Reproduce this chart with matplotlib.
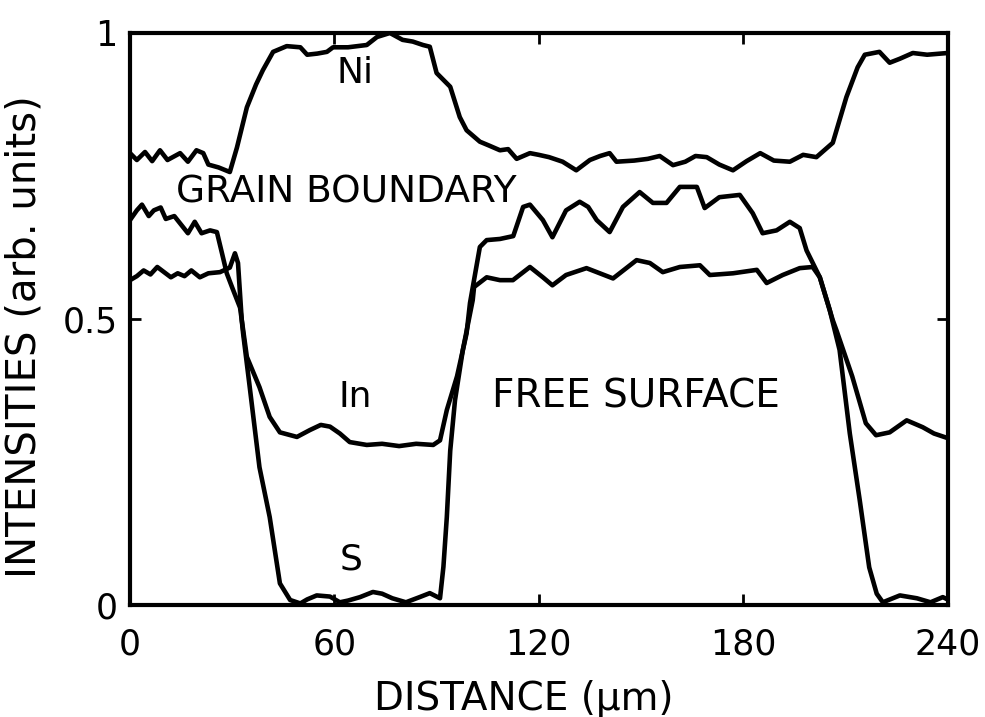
import matplotlib
matplotlib.use("Agg")
import matplotlib.pyplot as plt

plt.rcParams['font.family'] = ['DejaVu Sans']

# Ni profile
ni_x = [0, 2, 4.4, 6.5, 8.8, 11, 14.7, 17, 19.5, 21.5, 23, 26, 29.3, 31.4, 34.3, 37, 39, 42, 46,
        50, 52, 55, 57.8, 59.6, 64, 69.5, 72.5, 76.3, 80, 83, 86, 88, 90, 94, 96.8, 98.8, 102.7,
        105.5, 108.6, 111, 113.5, 117.4, 120, 123, 127, 131, 135, 138, 140.8, 142.8, 148, 152,
        155.5, 159.4, 163, 166, 169.3, 173, 177, 181, 185, 189, 193.7, 197.6, 201.5, 206.3,
        208.3, 210.3, 213.6, 215.7, 220, 223, 226, 229.8, 234, 240]
ni_y = [0.790, 0.778, 0.792, 0.776, 0.795, 0.778, 0.790, 0.775, 0.795, 0.790, 0.770, 0.765, 0.757,
        0.800, 0.870, 0.910, 0.935, 0.967, 0.977, 0.975, 0.962, 0.964, 0.967, 0.975, 0.975, 0.979,
        0.993, 1.000, 0.988, 0.985, 0.979, 0.976, 0.930, 0.906, 0.853, 0.830, 0.810, 0.803, 0.795,
        0.797, 0.780, 0.790, 0.787, 0.783, 0.775, 0.760, 0.778, 0.785, 0.790, 0.775, 0.777, 0.780,
        0.785, 0.769, 0.775, 0.785, 0.783, 0.770, 0.760, 0.776, 0.790, 0.777, 0.775, 0.787, 0.783,
        0.808, 0.848, 0.888, 0.940, 0.962, 0.967, 0.948, 0.955, 0.965, 0.962, 0.965]

# In profile
in_x = [0, 2, 3.5, 5.5, 7, 9, 10.5, 13, 15, 17, 19, 21, 23.5, 25.5, 27, 28.4, 30, 32.3, 34.3, 38,
        41, 44, 49, 52.8, 56, 58.7, 61.6, 64.5, 69.5, 74, 79, 84, 89, 91, 93, 96, 98.8, 99.8,
        102.7, 104.7, 108.6, 112.5, 115.4, 117.4, 121.2, 124, 128, 132, 134.5, 137, 140.8, 144.7,
        149.6, 153.5, 157.5, 161.4, 166.4, 168.7, 173, 179, 182.8, 185.7, 189.8, 193.7, 196.6,
        198.6, 202.5, 206.3, 207.4, 212, 216, 219, 223, 228, 232.7, 236, 240]
in_y = [0.673, 0.690, 0.700, 0.680, 0.690, 0.695, 0.675, 0.680, 0.665, 0.650, 0.670, 0.650, 0.655,
        0.652, 0.615, 0.580, 0.555, 0.520, 0.434, 0.381, 0.329, 0.302, 0.294, 0.306, 0.315, 0.312,
        0.300, 0.285, 0.280, 0.282, 0.278, 0.282, 0.280, 0.288, 0.341, 0.400, 0.475, 0.528, 0.626,
        0.638, 0.640, 0.645, 0.696, 0.700, 0.673, 0.643, 0.690, 0.705, 0.696, 0.673, 0.652, 0.696,
        0.722, 0.703, 0.703, 0.731, 0.731, 0.694, 0.713, 0.717, 0.685, 0.650, 0.655, 0.670, 0.659,
        0.620, 0.573, 0.498, 0.480, 0.400, 0.318, 0.297, 0.302, 0.323, 0.311, 0.300, 0.292]

# S profile
s_x = [0, 2, 4, 6, 8, 10, 12, 14, 16, 18, 20.5, 23, 26.4, 29.3, 30.8, 31.7, 32.8, 33.2, 35, 38,
       41, 44, 47, 50, 52, 54.8, 58.7, 61.6, 64, 67.5, 71.3, 74, 77, 81, 85, 88, 91, 92, 93, 94,
       95.4, 97.7, 100.6, 101, 104.7, 108.6, 112.4, 117.4, 121.2, 124, 128, 134, 141.8, 148.7,
       152.6, 156.4, 161.4, 167.3, 170.2, 177, 184, 186.9, 191.6, 196.6, 200.4, 202.5, 205.4,
       208.3, 211.3, 214.2, 217, 219.2, 221, 226, 231, 235, 238.6, 240]
s_y = [0.568, 0.575, 0.585, 0.578, 0.591, 0.582, 0.573, 0.580, 0.575, 0.585, 0.573, 0.580, 0.582,
       0.590, 0.615, 0.598, 0.498, 0.475, 0.388, 0.241, 0.154, 0.038, 0.009, 0.003, 0.010, 0.017,
       0.015, 0.005, 0.008, 0.014, 0.023, 0.020, 0.012, 0.005, 0.014, 0.021, 0.012, 0.067, 0.154,
       0.270, 0.358, 0.446, 0.533, 0.556, 0.573, 0.568, 0.568, 0.591, 0.573, 0.559, 0.577, 0.589,
       0.571, 0.603, 0.598, 0.582, 0.591, 0.594, 0.577, 0.580, 0.586, 0.563, 0.577, 0.589, 0.591,
       0.573, 0.516, 0.446, 0.300, 0.184, 0.066, 0.020, 0.005, 0.017, 0.012, 0.005, 0.014, 0.010]

x_ticks = [0, 60, 120, 180, 240]
y_ticks = [0, 0.5, 1]
y_tick_labels = ['0', '0.5', '1']

fig = plt.figure(figsize=(9.85, 7.17), dpi=100)
ax = fig.add_axes([0.132, 0.156, 0.830, 0.798])

for xs, ys in [(ni_x, ni_y), (in_x, in_y), (s_x, s_y)]:
    ax.plot(xs, ys, color='black', lw=3.3, solid_joinstyle='round', solid_capstyle='round')

ax.set_xlim(0, 240)
ax.set_ylim(0, 1)
ax.set_xticks(x_ticks)
ax.set_yticks(y_ticks)
ax.set_yticklabels(y_tick_labels)
ax.tick_params(direction='in', top=True, right=True, length=8, width=2)
ax.tick_params(axis='x', labelsize=25, pad=16)
ax.tick_params(axis='y', labelsize=25, pad=9)
for sp in ax.spines.values():
    sp.set_linewidth(3)

ax.set_xlabel('DISTANCE (µm)', fontsize=28)
ax.xaxis.set_label_coords(0.482, -0.13)
ax.set_ylabel('INTENSITIES (arb. units)', fontsize=29)
ax.yaxis.set_label_coords(-0.105, 0.47)

ax.text(66, 0.93, 'Ni', fontsize=26, ha='center', va='center')
ax.text(63.5, 0.722, 'GRAIN BOUNDARY', fontsize=27, ha='center', va='center')
ax.text(66, 0.364, 'In', fontsize=26, ha='center', va='center')
ax.text(65, 0.079, 'S', fontsize=26, ha='center', va='center')
ax.text(148.5, 0.364, 'FREE SURFACE', fontsize=28, ha='center', va='center')

fig.savefig('out.png', dpi=100)
